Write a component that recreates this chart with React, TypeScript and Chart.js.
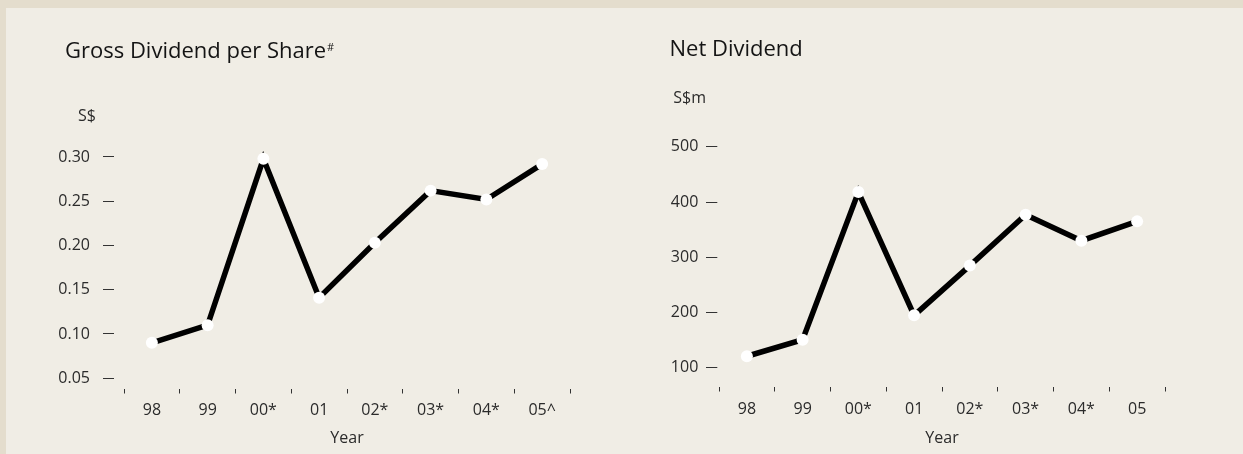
import React, { useEffect, useRef } from "react";
import { Chart, registerables } from "chart.js";

Chart.register(...registerables);

// ---- data ----
const grossYears = ["98", "99", "00*", "01", "02*", "03*", "04*", "05^"];
const grossValues = [0.09, 0.11, 0.298, 0.141, 0.203, 0.262, 0.252, 0.292];
const grossTicks = [0.05, 0.1, 0.15, 0.2, 0.25, 0.3];

const netYears = ["98", "99", "00*", "01", "02*", "03*", "04*", "05"];
const netValues = [121, 151, 418, 195, 285, 377, 330, 365];
const netTicks = [100, 200, 300, 400, 500];

const FONT = '"Open Sans", "Noto Sans", sans-serif';
const TEXT = "#2b2b2b";

const panelText = {
  id: "panelText",
  afterDraw(chart: any, _args: any, opts: any) {
    const ctx = chart.ctx as CanvasRenderingContext2D;
    ctx.save();
    ctx.textAlign = "left";
    ctx.textBaseline = "alphabetic";
    ctx.fillStyle = "#141414";
    ctx.font = `400 ${opts.titleSize}px ${FONT}`;
    ctx.fillText(opts.title, opts.titleX, opts.titleY);
    if (opts.sup) {
      const w = ctx.measureText(opts.title).width;
      ctx.font = `400 11px ${FONT}`;
      ctx.fillText(opts.sup, opts.titleX + w + 1, opts.titleY - 7);
    }
    ctx.fillStyle = TEXT;
    ctx.font = `400 16px ${FONT}`;
    ctx.fillText(opts.unit, opts.unitX, opts.unitY);
    ctx.restore();
  },
};

function makeConfig(p: any) {
  return {
    type: "line" as const,
    data: {
      labels: p.labels,
      datasets: [
        {
          data: p.values,
          borderColor: "#000",
          borderWidth: 5.5,
          borderJoinStyle: "miter",
          tension: 0,
          pointRadius: 6,
          pointHoverRadius: 6,
          pointBackgroundColor: "#fff",
          pointBorderWidth: 0,
          clip: false,
        },
      ],
    },
    options: {
      responsive: false,
      animation: false,
      events: [],
      layout: { padding: { left: 0, right: p.padRight, top: p.padTop, bottom: 0 } },
      plugins: {
        legend: { display: false },
        tooltip: { enabled: false },
        title: { display: false },
        panelText: p.text,
      },
      scales: {
        x: {
          type: "category",
          offset: true,
          grid: {
            display: true,
            offset: true,
            drawOnChartArea: false,
            color: "#333",
            lineWidth: 1,
            tickLength: 5,
          },
          border: { display: false },
          ticks: {
            font: { family: FONT, size: 16 },
            color: TEXT,
            padding: p.xTickPad,
            maxRotation: 0,
            autoSkip: false,
          },
          title: {
            display: true,
            text: "Year",
            font: { family: FONT, size: 16 },
            color: TEXT,
            padding: { top: 0, bottom: 6.2 },
          },
          afterFit: (s: any) => {
            s.height = p.xHeight;
          },
        },
        y: {
          min: p.min,
          max: p.max,
          afterBuildTicks: (s: any) => {
            s.ticks = p.ticks.map((v: number) => ({ value: v }));
          },
          afterFit: (s: any) => {
            s.width = p.yWidth;
          },
          grid: {
            display: true,
            drawOnChartArea: false,
            color: "#333",
            lineWidth: 1,
            tickLength: p.yTickLen,
            tickBorderDash: [p.dashLen, 40],
          },
          border: { display: false },
          ticks: {
            font: { family: FONT, size: 16 },
            color: TEXT,
            padding: p.yTickPad,
            callback: (v: any) => p.fmt(Number(v)),
          },
        },
      },
    },
    plugins: [panelText],
  };
}

function LineChart(props: { cfg: any; width: number; height: number; left: number }) {
  const ref = useRef<HTMLCanvasElement | null>(null);
  useEffect(() => {
    if (!ref.current) return;
    const chart = new Chart(ref.current, props.cfg);
    return () => chart.destroy();
  }, []);
  return (
    <canvas
      ref={ref}
      width={props.width}
      height={props.height}
      style={{ position: "absolute", left: props.left, top: 0, width: props.width, height: props.height }}
    />
  );
}

export default function App() {
  const left = makeConfig({
    labels: grossYears,
    values: grossValues,
    ticks: grossTicks,
    min: 0.0384,
    max: 0.32,
    padTop: 139.3,
    padRight: 50,
    yWidth: 124,
    yTickLen: 21,
    dashLen: 11,
    yTickPad: 13,
    xHeight: 65.5,
    xTickPad: 7,
    fmt: (v: number) => v.toFixed(2),
    text: {
      title: "Gross Dividend per Share",
      sup: "#",
      titleSize: 22,
      titleX: 65,
      titleY: 57.5,
      unit: "S$",
      unitX: 78,
      unitY: 120.8,
    },
  });
  const right = makeConfig({
    labels: netYears,
    values: netValues,
    ticks: netTicks,
    min: 66.3,
    max: 550,
    padTop: 119.1,
    padRight: 78,
    yWidth: 99,
    yTickLen: 13,
    dashLen: 11.3,
    yTickPad: 7.7,
    xHeight: 67.5,
    xTickPad: 8.6,
    fmt: (v: number) => String(Math.round(v)),
    text: {
      title: "Net Dividend",
      sup: "",
      titleSize: 22,
      titleX: 49.5,
      titleY: 56,
      unit: "S$m",
      unitX: 53.3,
      unitY: 102.5,
    },
  });
  return (
    <div
      style={{
        position: "fixed",
        left: 0,
        top: 0,
        width: 1243,
        height: 454,
        background: "#e4ddcd",
        overflow: "hidden",
      }}
    >
      <div
        style={{
          position: "absolute",
          left: 6,
          top: 8,
          right: 0,
          bottom: 0,
          background: "#f0ede5",
        }}
      />
      <LineChart cfg={left} width={620} height={454} left={0} />
      <LineChart cfg={right} width={623} height={454} left={620} />
    </div>
  );
}
